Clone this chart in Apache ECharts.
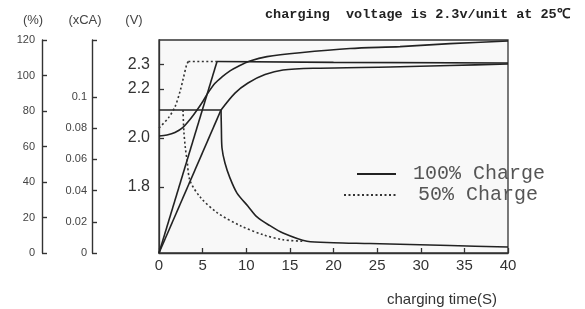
<!DOCTYPE html>
<html><head><meta charset="utf-8">
<script src="https://cdn.jsdelivr.net/npm/echarts@6/dist/echarts.min.js"></script>
<style>html,body{margin:0;padding:0;background:#fff}#c{width:585px;height:309px}</style>
</head><body><div id="c"></div>
<script>
// ---- tick labels ----
const timeTicks = [0, 5, 10, 15, 20, 25, 30, 35, 40];      // charging time
const voltTicks = [1.8, 2.0, 2.2, 2.3];                     // (V)
const pctTicks = [0, 20, 40, 60, 80, 100, 120];             // (%)
const caTicks = [0, 0.02, 0.04, 0.06, 0.08, 0.1];           // (xCA)

// ---- 100% Charge (solid) ----  [time, value]
const volume100Rise = [[0, 0], [6.65, 107.9]];                              // %
const volume100Flat = [[6.65, 107.9], [20, 107.4], [40, 107.0]];            // %
const lineB100Rise = [[0, 0], [7.11, 80.6]];                                // %
const lineB100Curve = [[7.11, 80.6], [8.71, 90.1], [10.2, 95.8], [12.15, 100.5], [14.21, 103.1],
  [18.07, 104.1], [26.48, 104.8], [33.35, 105.6], [40, 106.5]];             // %
const voltage100 = [[0, 2.008], [0.92, 2.012], [1.83, 2.022], [2.75, 2.043], [3.55, 2.075],
  [4.36, 2.114], [5.04, 2.150], [5.62, 2.184], [6.42, 2.223], [7.22, 2.249], [8.14, 2.274],
  [9.05, 2.292], [10.43, 2.314], [12.38, 2.332], [16.16, 2.348], [21.89, 2.365],
  [27.62, 2.373], [33.35, 2.385], [40, 2.396]];                             // V
const current100Const = [[0, 0.0916], [7.11, 0.0916]];                      // xCA
const current100Decay = [[7.11, 0.0916], [7.15, 0.080], [7.22, 0.0673], [7.56, 0.0577], [8.14, 0.048],
  [8.94, 0.0384], [10.2, 0.030], [11.23, 0.0231], [12.72, 0.0175], [14.21, 0.0128],
  [16.96, 0.0075], [20, 0.0066], [24.18, 0.0061], [33.35, 0.0048], [40, 0.0038]]; // xCA

// ---- 50% Charge (dotted) ----
const volume50Rise = [[0, 70.4], [1.07, 76.1], [1.83, 82.3], [2.41, 91], [2.79, 98.5], [3.17, 106.1], [3.36, 107.9]]; // %
const volume50Flat = [[3.36, 107.9], [6.65, 107.9]];                        // %
const current50Decay = [[2.75, 0.0916], [2.85, 0.078], [3.02, 0.0673], [3.21, 0.0596], [3.55, 0.0465],
  [4.70, 0.036], [6.65, 0.0259], [9.4, 0.0173], [12.03, 0.0115], [14.21, 0.0085], [16.5, 0.0075]]; // xCA

const INK = '#222';
const solid = { color: INK, width: 1.6, type: 'solid' };
const dotted = { color: '#333', width: 1.6, type: [2, 2.5] };
// smooth: 0 = straight polyline, 'c' = smooth curve
function s(name, data, yAxisIndex, style, smooth) {
  return { type: 'line', name, data, xAxisIndex: 0, yAxisIndex, symbol: 'none', silent: true,
    smooth: smooth ? 0.3 : false, lineStyle: style, itemStyle: { color: style.color }, animation: false };
}
const chart = echarts.init(document.getElementById('c'), null, { renderer: 'canvas' });
const axisColor = '#333';
chart.setOption({
  animation: false,
  backgroundColor: '#fff',
  grid: [
    { left: 159, top: 40, width: 349, height: 213, show: true, borderColor: axisColor, borderWidth: 1.3, backgroundColor: '#f8f8f8' },
    { left: 42, top: 40, width: 20, height: 213 },
    { left: 92, top: 40, width: 20, height: 213 }
  ],
  xAxis: [
    { gridIndex: 0, type: 'value', min: timeTicks[0], max: timeTicks[timeTicks.length - 1], interval: 5,
      axisLine: { show: true, lineStyle: { color: axisColor, width: 1.3 } },
      axisTick: { show: true, inside: true, length: 5, lineStyle: { color: axisColor, width: 1.3 } },
      axisLabel: { fontSize: 15, color: '#333', fontFamily: 'Liberation Sans', margin: 5 },
      splitLine: { show: false } },
    { gridIndex: 1, type: 'value', show: false },
    { gridIndex: 2, type: 'value', show: false }
  ],
  yAxis: [
    { gridIndex: 0, type: 'value', min: 1.53, max: 2.40, position: 'left',
      axisLine: { show: true, lineStyle: { color: axisColor, width: 1.3 } },
      axisTick: { show: true, inside: true, length: 5, customValues: voltTicks, lineStyle: { color: axisColor, width: 1.3 } },
      axisLabel: { customValues: voltTicks, formatter: v => v.toFixed(1), fontSize: 16, color: '#333', fontFamily: 'Liberation Sans', margin: 9 },
      splitLine: { show: false } },
    { gridIndex: 0, type: 'value', min: pctTicks[0], max: pctTicks[pctTicks.length - 1], show: false },
    { gridIndex: 0, type: 'value', min: 0, max: 0.1365, show: false },
    { gridIndex: 1, type: 'value', min: pctTicks[0], max: pctTicks[pctTicks.length - 1], interval: 20, position: 'left',
      axisLine: { show: true, lineStyle: { color: axisColor, width: 1.4 } },
      axisTick: { show: true, inside: true, length: 5, lineStyle: { color: axisColor, width: 1.4 } },
      axisLabel: { fontSize: 11, color: '#444', fontFamily: 'Liberation Sans', margin: 7 },
      splitLine: { show: false } },
    { gridIndex: 2, type: 'value', min: 0, max: 0.1365, position: 'left',
      axisLine: { show: true, lineStyle: { color: axisColor, width: 1.4 } },
      axisTick: { show: true, inside: true, length: 5, customValues: caTicks.concat([0.1365]), lineStyle: { color: axisColor, width: 1.4 } },
      axisLabel: { customValues: caTicks, fontSize: 11, color: '#444', fontFamily: 'Liberation Sans', margin: 5 },
      splitLine: { show: false } }
  ],
  legend: [
    { data: ['100% Charge'], left: 356, top: 164, padding: 0, itemWidth: 39, itemHeight: 14,
      itemStyle: { opacity: 0 },
      textStyle: { fontFamily: 'Liberation Mono', fontSize: 20, color: '#555', padding: [0, 0, 0, 12] } },
    { data: ['50% Charge'], left: 343, top: 185, padding: 0, itemWidth: 52, itemHeight: 14,
      itemStyle: { opacity: 0 },
      textStyle: { fontFamily: 'Liberation Mono', fontSize: 20, color: '#555', padding: [0, 0, 0, 17] } }
  ],
  graphic: [
    { type: 'text', x: 33, y: 20, style: { text: '(%)', align: 'center', verticalAlign: 'middle', font: '13px "Liberation Sans"', fill: '#444' } },
    { type: 'text', x: 85, y: 20, style: { text: '(xCA)', align: 'center', verticalAlign: 'middle', font: '13px "Liberation Sans"', fill: '#444' } },
    { type: 'text', x: 134, y: 20, style: { text: '(V)', align: 'center', verticalAlign: 'middle', font: '13px "Liberation Sans"', fill: '#444' } },
    { type: 'text', x: 265, y: 15, style: { text: 'charging  voltage is 2.3v/unit at 25℃', align: 'left', verticalAlign: 'middle', font: 'bold 13.5px "Liberation Mono"', fill: '#222' } },
    { type: 'text', x: 387, y: 300, style: { text: 'charging time(S)', align: 'left', verticalAlign: 'middle', font: '15px "Liberation Sans"', fill: '#333' } }
  ],
  series: [
    s('100% Charge', volume100Rise, 1, solid, 0),
    s('100% Charge', volume100Flat, 1, solid, 0),
    s('100% Charge', lineB100Rise, 1, solid, 0),
    s('100% Charge', lineB100Curve, 1, solid, 'c'),
    s('100% Charge', voltage100, 0, solid, 'c'),
    s('100% Charge', current100Const, 2, solid, 0),
    s('100% Charge', current100Decay, 2, solid, 'c'),
    s('50% Charge', volume50Rise, 1, dotted, 'c'),
    s('50% Charge', volume50Flat, 1, dotted, 0),
    s('50% Charge', current50Decay, 2, dotted, 'c')
  ]
});
</script></body></html>
